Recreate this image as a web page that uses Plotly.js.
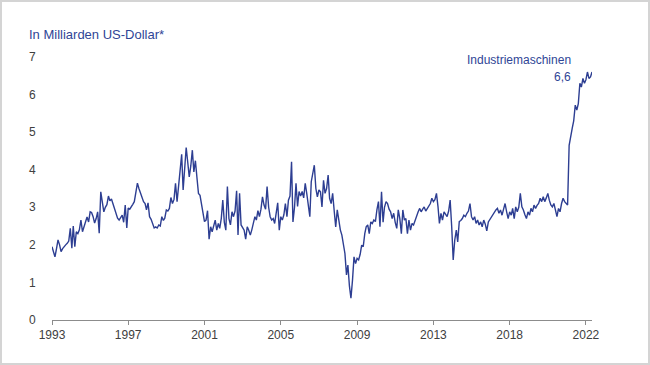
<!DOCTYPE html>
<html>
<head>
<meta charset="utf-8">
<script src="https://cdn.plot.ly/plotly-3.0.1.min.js"></script>
<style>
  html, body { margin: 0; padding: 0; background: #ffffff; }
  #wrap { position: relative; width: 650px; height: 365px; }
  #chart { position: absolute; left: 0; top: 0; width: 650px; height: 365px; }
  #frame { position: absolute; left: 0; top: 0; width: 650px; height: 365px; box-sizing: border-box; border: 2px solid #d4d4d4; pointer-events: none; }
</style>
</head>
<body>
<div id="wrap"><div id="chart"></div><div id="frame"></div></div>
<script>
// Monthly values, Jan 1993 onwards (billion US-Dollar)
const values = [
  1.95, 1.80, 1.68, 1.90, 2.13, 2.00, 1.82, 1.90, 1.97, 2.00,
  2.04, 2.10, 2.44, 1.91, 2.50, 1.95, 2.35, 2.30, 2.40, 2.66,
  2.35, 2.50, 2.61, 2.74, 2.61, 2.88, 2.86, 2.75, 2.58, 2.70,
  2.88, 2.31, 3.41, 3.15, 2.88, 3.00, 3.07, 3.30, 3.17, 3.22,
  3.10, 3.01, 2.85, 2.71, 2.66, 2.72, 2.79, 2.60, 3.06, 2.45,
  2.98, 2.95, 3.00, 3.08, 3.15, 3.37, 3.64, 3.50, 3.39, 3.25,
  3.15, 3.10, 2.93, 3.12, 2.75, 2.68, 2.55, 2.45, 2.48, 2.45,
  2.53, 2.50, 2.75, 2.65, 2.71, 2.93, 2.90, 2.97, 3.26, 3.10,
  3.21, 3.64, 3.15, 3.64, 3.90, 4.41, 3.46, 4.00, 4.59, 4.20,
  3.81, 4.10, 4.52, 3.94, 4.24, 3.80, 3.37, 3.32, 3.10, 2.80,
  2.62, 2.66, 2.91, 2.15, 2.48, 2.35, 2.50, 2.66, 2.39, 2.57,
  2.44, 2.70, 3.19, 2.60, 2.39, 3.55, 2.70, 2.53, 2.88, 2.75,
  2.90, 3.44, 2.26, 3.37, 2.53, 2.45, 2.39, 2.15, 2.48, 2.39,
  2.26, 2.40, 2.55, 2.75, 2.66, 2.91, 2.75, 2.95, 3.28, 3.06,
  2.95, 3.55, 3.00, 2.75, 2.66, 2.70, 2.57, 2.80, 3.12, 2.39,
  2.75, 2.66, 2.80, 3.10, 2.75, 3.19, 3.30, 4.21, 2.61, 3.00,
  3.64, 3.02, 3.42, 3.30, 3.42, 3.25, 3.64, 3.37, 3.10, 2.75,
  3.68, 3.90, 4.12, 3.50, 3.28, 3.46, 3.41, 3.01, 3.72, 3.37,
  3.50, 3.86, 3.24, 3.10, 3.37, 2.90, 2.48, 2.93, 2.61, 2.40,
  2.26, 1.95, 1.77, 1.20, 1.46, 0.90, 0.58, 1.06, 1.68, 1.50,
  1.64, 1.60, 1.75, 1.99, 1.95, 2.30, 2.48, 2.53, 2.30, 2.61,
  2.57, 2.66, 2.62, 2.93, 3.15, 2.48, 3.41, 2.60, 3.00, 3.15,
  3.10, 2.95, 2.88, 2.70, 2.84, 2.60, 2.44, 2.93, 2.70, 2.30,
  2.93, 2.66, 2.70, 2.30, 2.66, 2.39, 2.57, 2.53, 2.66, 2.75,
  2.88, 2.97, 2.88, 2.95, 3.01, 2.90, 2.97, 3.05, 3.10, 3.24,
  3.15, 3.20, 3.37, 3.01, 2.57, 2.84, 2.66, 2.88, 2.80, 2.75,
  2.90, 3.19, 2.48, 1.60, 2.13, 2.39, 2.08, 2.62, 2.65, 2.70,
  2.79, 2.75, 2.84, 2.90, 3.10, 2.75, 2.66, 2.75, 2.57, 2.66,
  2.53, 2.61, 2.48, 2.66, 2.55, 2.37, 2.61, 2.68, 2.75, 2.82,
  2.88, 2.93, 2.97, 2.84, 2.93, 2.79, 2.95, 3.10, 2.88, 2.70,
  2.88, 2.79, 2.97, 2.70, 3.01, 2.88, 3.00, 3.37, 3.01, 2.93,
  2.80, 2.70, 2.88, 2.79, 2.97, 2.88, 3.06, 2.97, 3.05, 3.10,
  3.24, 3.15, 3.28, 3.15, 3.25, 3.37, 3.19, 3.06, 3.01, 3.10,
  2.93, 2.75, 2.97, 2.88, 3.10, 3.24, 3.15, 3.10, 3.06, 4.65,
  4.92, 5.10, 5.30, 5.72, 5.59, 5.76, 6.30, 6.20, 6.43, 6.30,
  6.39, 6.60, 6.43, 6.47, 6.60
];

// Month categories (one per value), starting January 1993
const startYear = 1993;
const months = values.map(function (v, i) {
  const y = startYear + Math.floor(i / 12);
  const m = (i % 12) + 1;
  return y + '-' + (m < 10 ? '0' + m : m) + '-01';
});

// X tick positions (every 50 months) and their labels
const tickIndex = [0, 50, 100, 150, 200, 250, 300, 350];
const tickLabels = ['1993', '1997', '2001', '2005', '2009', '2013', '2018', '2022'];

const yTicks = [0, 1, 2, 3, 4, 5, 6, 7];

const seriesName = 'Industriemaschinen';
const lastLabel = '6,6';
const unitLabel = 'In Milliarden US-Dollar*';

const blue = '#2d3e92';

const trace = {
  x: months,
  y: values,
  type: 'scatter',
  mode: 'lines',
  name: seriesName,
  line: { color: blue, width: 1.4 },
  hoverinfo: 'x+y'
};

const layout = {
  width: 650,
  height: 365,
  margin: { l: 52, r: 58, t: 57, b: 45 },
  paper_bgcolor: '#ffffff',
  plot_bgcolor: '#ffffff',
  showlegend: false,
  font: { family: 'Liberation Sans, Arial, sans-serif', size: 12, color: '#404040' },
  title: {
    text: unitLabel,
    font: { family: 'Liberation Sans, Arial, sans-serif', size: 13, color: '#2f4596' },
    xref: 'container', yref: 'container',
    x: 29 / 650, xanchor: 'left',
    y: 1 - 34 / 365, yanchor: 'middle'
  },
  xaxis: {
    type: 'date',
    range: [months[0], months[months.length - 1]],
    tickmode: 'array',
    tickvals: tickIndex.map(function (i) { return months[i]; }),
    ticktext: tickLabels,
    showgrid: false,
    zeroline: false,
    showline: true,
    linecolor: '#8c8c8c',
    linewidth: 1,
    ticks: 'outside',
    ticklen: 4,
    tickcolor: '#8c8c8c',
    tickfont: { size: 12, color: '#404040' },
    fixedrange: true
  },
  yaxis: {
    range: [0, 7],
    tickmode: 'array',
    tickvals: yTicks,
    ticktext: yTicks.map(String),
    showgrid: false,
    zeroline: false,
    showline: false,
    ticks: 'outside',
    ticklen: 13,
    tickcolor: 'rgba(0,0,0,0)',
    tickfont: { size: 12, color: '#404040' },
    fixedrange: true
  },
  annotations: [
    {
      text: seriesName,
      xref: 'paper', yref: 'y',
      x: (573 - 52) / 540, y: 6.92,
      xanchor: 'right', yanchor: 'middle',
      showarrow: false,
      font: { size: 12, color: '#2f4596' }
    },
    {
      text: lastLabel,
      xref: 'paper', yref: 'y',
      x: (573 - 52) / 540, y: 6.47,
      xanchor: 'right', yanchor: 'middle',
      showarrow: false,
      font: { size: 12, color: '#2f4596' }
    }
  ]
};

Plotly.newPlot('chart', [trace], layout, { displayModeBar: false, staticPlot: true });
</script>
</body>
</html>
